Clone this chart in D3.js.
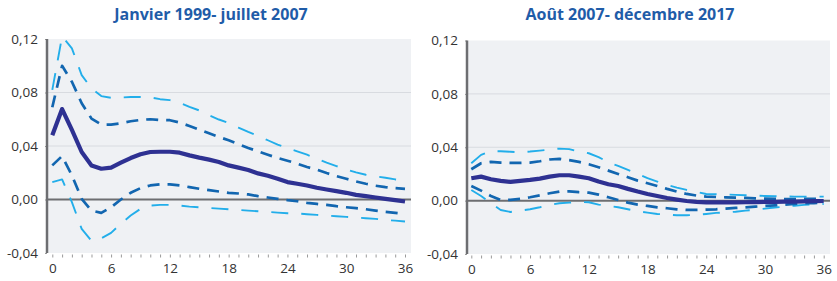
<!DOCTYPE html>
<html>
<head>
<meta charset="utf-8">
<script src="https://cdn.jsdelivr.net/npm/d3@7/dist/d3.min.js"></script>
<style>
  html, body { margin: 0; padding: 0; background: #ffffff; }
  svg { display: block; }
  text { font-family: "Open Sans", "Noto Sans", sans-serif; }
</style>
</head>
<body>
<svg id="chart" width="837" height="281"></svg>
<script>
// ---------- data ----------
const months = d3.range(0, 37);
const xTicks = [0, 6, 12, 18, 24, 30, 36];
const yTicks = [-0.04, 0.00, 0.04, 0.08, 0.12];
const yTickLabels = ["-0,04", "0,00", "0,04", "0,08", "0,12"];
const titles = ["Janvier 1999- juillet 2007", "Août 2007- décembre 2017"];

// Panel 1 : Janvier 1999 - juillet 2007
const p1Main = [0.048, 0.0676, 0.052, 0.0355, 0.0255, 0.023, 0.0238, 0.0275, 0.031, 0.0338,
  0.0355, 0.0357, 0.0357, 0.035, 0.033, 0.0313, 0.0298, 0.028, 0.0255, 0.0238,
  0.022, 0.0195, 0.0178, 0.0155, 0.013, 0.0118, 0.0105, 0.0088, 0.0075, 0.0063,
  0.005, 0.0035, 0.0025, 0.0015, 0.0005, -0.0005, -0.0015];
const p1InnerUp = [0.069, 0.1, 0.088, 0.072, 0.0605, 0.056, 0.056, 0.057, 0.0585, 0.0595,
  0.06, 0.0595, 0.0593, 0.0575, 0.055, 0.0523, 0.0495, 0.0468, 0.0443, 0.0415,
  0.0385, 0.036, 0.0335, 0.031, 0.029, 0.0268, 0.0243, 0.0223, 0.0198, 0.0175,
  0.0155, 0.0135, 0.0118, 0.0103, 0.0093, 0.0085, 0.008];
const p1InnerLow = [0.0255, 0.0325, 0.018, 0.0005, -0.0083, -0.01, -0.0058, 0.0, 0.005, 0.0085,
  0.0105, 0.0113, 0.0113, 0.0105, 0.0093, 0.008, 0.007, 0.006, 0.005, 0.0045,
  0.0038, 0.0025, 0.0015, 0.0005, -0.0005, -0.0013, -0.0025, -0.0033, -0.004, -0.005,
  -0.0058, -0.0065, -0.0073, -0.0083, -0.0093, -0.01, -0.0108];
const p1OuterUp = [0.082, 0.122, 0.113, 0.093, 0.083, 0.0773, 0.076, 0.0763, 0.0766, 0.0766,
  0.0763, 0.075, 0.0743, 0.0723, 0.0693, 0.0666, 0.063, 0.0598, 0.0573, 0.0538,
  0.0505, 0.0475, 0.0443, 0.041, 0.0385, 0.036, 0.0335, 0.0305, 0.0275, 0.025,
  0.0225, 0.0203, 0.0185, 0.0173, 0.0163, 0.015, 0.0142];
const p1OuterLow = [0.013, 0.015, -0.002, -0.022, -0.031, -0.029, -0.025, -0.018, -0.012, -0.007,
  -0.0045, -0.004, -0.004, -0.0045, -0.0053, -0.0058, -0.0063, -0.0068, -0.0073, -0.0078,
  -0.0083, -0.0088, -0.0093, -0.0098, -0.0103, -0.0105, -0.011, -0.0115, -0.012, -0.0125,
  -0.013, -0.0135, -0.014, -0.0145, -0.0153, -0.0158, -0.0165];

// Panel 2 : Août 2007 - décembre 2017
const p2Main = [0.0168, 0.018, 0.016, 0.0148, 0.014, 0.0148, 0.0155, 0.0165, 0.018, 0.019,
  0.019, 0.018, 0.0168, 0.0143, 0.0123, 0.011, 0.0088, 0.0068, 0.005, 0.0035,
  0.002, 0.0008, -0.0003, -0.001, -0.0013, -0.0013, -0.0013, -0.0013, -0.0012, -0.0011,
  -0.001, -0.0009, -0.0008, -0.0007, -0.0005, -0.0004, -0.0003];
const p2InnerUp = [0.0235, 0.028, 0.029, 0.0285, 0.0283, 0.0283, 0.0285, 0.0295, 0.0308, 0.0313,
  0.0303, 0.029, 0.0273, 0.025, 0.0225, 0.02, 0.0175, 0.015, 0.013, 0.011,
  0.0088, 0.0068, 0.005, 0.0038, 0.003, 0.0027, 0.0025, 0.0022, 0.002, 0.0017,
  0.0015, 0.0013, 0.0012, 0.0012, 0.0013, 0.0014, 0.0015];
const p2InnerLow = [0.011, 0.0075, 0.0035, 0.0005, 0.0005, 0.0013, 0.0025, 0.004, 0.0055, 0.0068,
  0.007, 0.0063, 0.006, 0.0045, 0.0025, 0.0005, -0.0015, -0.003, -0.004, -0.005,
  -0.0057, -0.0065, -0.007, -0.007, -0.0068, -0.0065, -0.006, -0.0055, -0.005, -0.0045,
  -0.004, -0.0035, -0.003, -0.0025, -0.002, -0.0018, -0.0015];
const p2OuterUp = [0.028, 0.0343, 0.037, 0.037, 0.0366, 0.0363, 0.0368, 0.0375, 0.0383, 0.039,
  0.0386, 0.0368, 0.0355, 0.0326, 0.0288, 0.026, 0.023, 0.02, 0.0168, 0.0143,
  0.0118, 0.0098, 0.008, 0.0065, 0.005, 0.0048, 0.0046, 0.0043, 0.004, 0.0038,
  0.0035, 0.0033, 0.0031, 0.003, 0.003, 0.003, 0.003];
const p2OuterLow = [0.008, 0.0035, -0.002, -0.007, -0.0085, -0.0075, -0.0065, -0.005, -0.0032, -0.002,
  -0.0015, -0.001, -0.0012, -0.003, -0.004, -0.005, -0.0065, -0.008, -0.009, -0.01,
  -0.0105, -0.011, -0.011, -0.0107, -0.01, -0.0092, -0.0088, -0.0083, -0.0075, -0.0068,
  -0.006, -0.0052, -0.0045, -0.0038, -0.0032, -0.0028, -0.0025];

// ---------- layout ----------
const panels = [
  { title: titles[0], titleX: 211, left: 47, right: 411, x0: 52.3, x36: 405, top: 39, bottom: 253,
    series: { outerUp: p1OuterUp, outerLow: p1OuterLow, innerUp: p1InnerUp, innerLow: p1InnerLow, main: p1Main } },
  { title: titles[1], titleX: 630, left: 467, right: 830, x0: 471.3, x36: 823.7, top: 40.5, bottom: 254,
    series: { outerUp: p2OuterUp, outerLow: p2OuterLow, innerUp: p2InnerUp, innerLow: p2InnerLow, main: p2Main } }
];

const styles = {
  outer: { color: "#22aeea", width: 1.9, dash: "17,13" },
  inner: { color: "#1266b0", width: 2.7, dash: "12,8" },
  main:  { color: "#2e3192", width: 4.2, dash: null }
};

const svg = d3.select("#chart");

panels.forEach((p, i) => {
  const x = d3.scaleLinear().domain([0, 36]).range([p.x0, p.x36]);
  const y = d3.scaleLinear().domain([-0.04, 0.12]).range([p.bottom, p.top]);
  const g = svg.append("g");

  // title
  g.append("text")
    .attr("x", p.titleX)
    .attr("y", 20)
    .attr("text-anchor", "middle")
    .attr("font-size", 16)
    .attr("font-weight", 700)
    .attr("fill", "#1f5ca8")
    .text(p.title);

  // background
  g.append("rect")
    .attr("x", p.left).attr("y", p.top)
    .attr("width", p.right - p.left).attr("height", p.bottom - p.top)
    .attr("fill", "#eff1f4");

  // gridlines
  g.selectAll(".grid").data([0.04, 0.08]).join("line")
    .attr("x1", p.left).attr("x2", p.right)
    .attr("y1", d => y(d)).attr("y2", d => y(d))
    .attr("stroke", "#d8dbe0").attr("stroke-width", 1);

  // zero line
  g.append("line")
    .attr("x1", p.left).attr("x2", p.right)
    .attr("y1", y(0)).attr("y2", y(0))
    .attr("stroke", "#6d6e71").attr("stroke-width", 2);

  // y axis
  const yAxis = d3.axisLeft(y).tickValues(yTicks)
    .tickFormat((d, k) => yTickLabels[k]).tickSize(2).tickPadding(7);
  const ya = g.append("g").attr("transform", `translate(${p.left},0)`).call(yAxis);
  ya.select(".domain").remove();
  ya.selectAll(".tick line").attr("stroke", "#999");
  ya.selectAll(".tick text").attr("font-size", 13.5).attr("fill", "#333")
    .attr("font-family", "'Open Sans', sans-serif");
  g.append("line")
    .attr("x1", p.left).attr("x2", p.left)
    .attr("y1", p.top).attr("y2", p.bottom)
    .attr("stroke", "#6d6e71").attr("stroke-width", 2.5);

  // x axis (ticks only)
  const xAxis = d3.axisBottom(x).tickValues(months)
    .tickFormat(d => xTicks.includes(d) ? String(d) : "").tickSize(3).tickPadding(6);
  const xa = g.append("g").attr("transform", `translate(0,${p.bottom + 1.5})`).call(xAxis);
  xa.select(".domain").remove();
  xa.selectAll(".tick line").attr("stroke", "#9a9a9a");
  xa.selectAll(".tick text").attr("font-size", 13.5).attr("fill", "#333")
    .attr("font-family", "'Open Sans', sans-serif");

  // clip
  const clipId = "clip" + i;
  svg.append("clipPath").attr("id", clipId).append("rect")
    .attr("x", p.left).attr("y", p.top)
    .attr("width", p.right - p.left).attr("height", p.bottom - p.top);

  const line = d3.line().x((d, k) => x(months[k])).y(d => y(d));
  const lg = g.append("g").attr("clip-path", `url(#${clipId})`);

  const order = [
    ["outerUp", styles.outer], ["outerLow", styles.outer],
    ["innerUp", styles.inner], ["innerLow", styles.inner],
    ["main", styles.main]
  ];
  order.forEach(([key, st]) => {
    lg.append("path")
      .datum(p.series[key])
      .attr("d", line)
      .attr("fill", "none")
      .attr("stroke", st.color)
      .attr("stroke-width", st.width)
      .attr("stroke-linejoin", "round")
      .attr("stroke-dasharray", st.dash);
  });
});
</script>
</body>
</html>
